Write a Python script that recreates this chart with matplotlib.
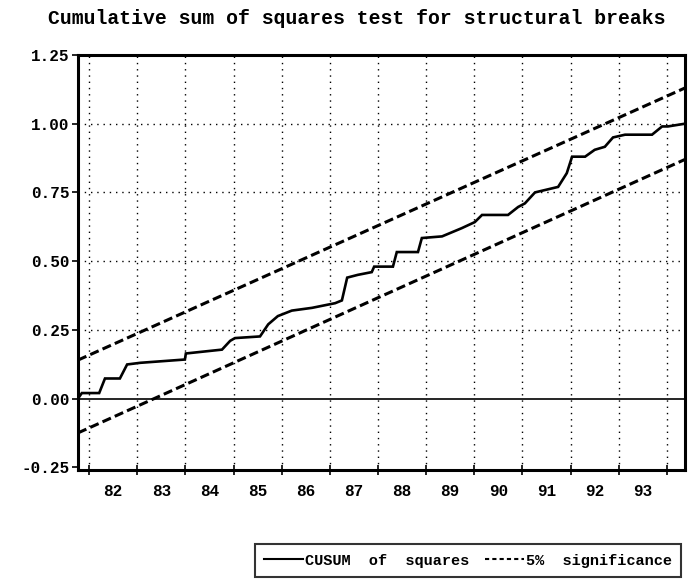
import numpy as np
import matplotlib
matplotlib.use("Agg")
import matplotlib.pyplot as plt
from matplotlib.lines import Line2D

# CUSUM of squares (decimal years)
years = [1981.77, 1981.85, 1982.21, 1982.33, 1982.64, 1982.79, 1983.06, 1983.99,
         1984.01, 1984.76, 1984.93, 1985.03, 1985.55, 1985.72, 1985.92, 1986.21,
         1986.63, 1987.11, 1987.25, 1987.36, 1987.58, 1987.87, 1987.92, 1988.31,
         1988.39, 1988.83, 1988.91, 1989.33, 1989.74, 1990.01, 1990.16, 1990.70,
         1990.91, 1991.05, 1991.26, 1991.74, 1991.92, 1992.03, 1992.30, 1992.50,
         1992.71, 1992.88, 1993.13, 1993.69, 1993.90, 1994.02, 1994.375]
cusum = [0.0, 0.02, 0.02, 0.073, 0.073, 0.124, 0.13, 0.142,
         0.164, 0.178, 0.21, 0.22, 0.226, 0.27, 0.30, 0.32,
         0.33, 0.347, 0.357, 0.44, 0.45, 0.46, 0.48, 0.48,
         0.533, 0.533, 0.584, 0.59, 0.62, 0.642, 0.668, 0.668,
         0.697, 0.71, 0.75, 0.77, 0.82, 0.88, 0.88, 0.905,
         0.916, 0.95, 0.96, 0.96, 0.99, 0.99, 1.0]

# 5% significance bounds (straight lines, start/end)
band_x = [1981.77, 1994.375]
upper = [0.14, 1.13]
lower = [-0.125, 0.87]

year_labels = ["82", "83", "84", "85", "86", "87", "88", "89", "90", "91", "92", "93"]
year_starts = np.arange(1982, 1995)
y_ticks = [-0.25, 0.0, 0.25, 0.5, 0.75, 1.0, 1.25]

plt.rcParams["axes.unicode_minus"] = False
font = dict(family="Liberation Mono", weight="bold")

fig = plt.figure(figsize=(6.89, 5.83), dpi=100)
ax = fig.add_axes([0.1132, 0.1938, 0.881, 0.7119])

# grid
for yv in [0.25, 0.5, 0.75, 1.0]:
    ax.axhline(yv, color="black", lw=1.0, ls=(0, (1, 3.5)), zorder=1)
for xv in year_starts:
    ax.axvline(xv, color="black", lw=1.0, ls=(0, (1, 3.5)), zorder=1)
ax.axhline(0.0, color="black", lw=1.2, zorder=2)

ax.plot(years, cusum, color="black", lw=1.9, zorder=3, solid_joinstyle="miter")
ax.plot(band_x, upper, color="black", lw=2.2, ls=(0, (3, 1.4)), zorder=3)
ax.plot(band_x, lower, color="black", lw=2.2, ls=(0, (3, 1.4)), zorder=3)

ax.set_xlim(band_x[0], band_x[1])
ax.set_ylim(-0.26, 1.25)

ax.set_yticks(y_ticks)
ax.set_yticklabels(["%.2f" % v for v in y_ticks], fontsize=11.5, **font)
ax.set_xticks(year_starts[:-1] + 0.5)
ax.set_xticklabels(year_labels, fontsize=11.5, **font)
ax.set_xticks(year_starts, minor=True)
ax.tick_params(axis="x", which="major", length=0, pad=10)
ax.tick_params(axis="x", which="minor", length=7, width=1.2, direction="inout")
ax.tick_params(axis="y", length=4, width=1.2, pad=2)

for s in ax.spines.values():
    s.set_linewidth(2.2)

fig.text(0.518, 0.968, "Cumulative sum of squares test for structural breaks",
         ha="center", va="center", fontsize=14.2, **font)

handles = [Line2D([], [], color="black", lw=1.5),
           Line2D([], [], color="black", lw=1.5, ls=(0, (2, 1.5)))]
leg = fig.legend(handles, ["CUSUM  of  squares", "5%  significance"],
                 loc="lower right", bbox_to_anchor=(0.995, 0.003), ncol=2,
                 frameon=True, fancybox=False, handlelength=2.6, handletextpad=0.1,
                 columnspacing=1.0, borderpad=0.6, borderaxespad=0.3,
                 prop=dict(family="Liberation Mono", weight="bold", size=11))
leg.get_frame().set_edgecolor("black")
leg.get_frame().set_linewidth(1.5)

fig.savefig("out.png", dpi=100)
